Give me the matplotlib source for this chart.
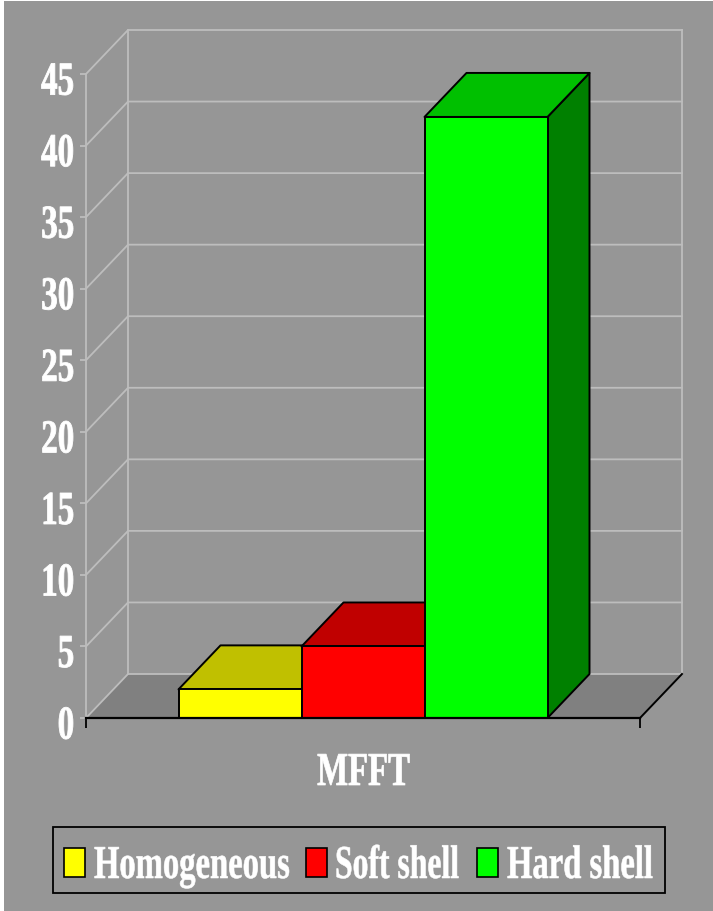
import matplotlib
matplotlib.use('Agg')
import matplotlib.pyplot as plt
from matplotlib.patches import Rectangle
from matplotlib.patheffects import AbstractPathEffect
from matplotlib.transforms import Affine2D

# data
categories = ['Homogeneous', 'Soft shell', 'Hard shell']
values = [2.0, 5.0, 42.0]
y_ticks = [0, 5, 10, 15, 20, 25, 30, 35, 40, 45]
group_label = 'MFFT'

front_colors = ['#ffff00', '#ff0000', '#00ff00']
top_colors = ['#c0c000', '#c00000', '#00c000']
side_colors = ['#808000', '#800000', '#008000']

BG = '#969696'
GRID = '#bdbdbd'
FLOOR = '#808080'
W, H = 713, 911


class Tall(AbstractPathEffect):
    # the reference text is a tall narrow serif, stretch glyphs upwards
    def __init__(self, sy, anchor='baseline', shift=0, bold=0.0):
        super().__init__()
        self.sy = sy
        self.anchor = anchor
        self.shift = shift
        self.bold = bold

    def draw_path(self, renderer, gc, tpath, affine, rgbFace=None):
        if self.anchor == 'center':
            ext = tpath.get_extents(affine)
            y0 = (ext.y0 + ext.y1) / 2
        else:
            y0 = affine.transform((0, 0))[1]
        tall = affine + Affine2D().translate(0, -y0).scale(1, self.sy).translate(0, y0 + self.shift)
        gc0 = renderer.new_gc()
        gc0.copy_properties(gc)
        gc0.set_linewidth(self.bold)
        gc0.set_foreground(rgbFace)
        renderer.draw_path(gc0, tpath, tall, rgbFace)
        gc0.restore()


plt.rcParams['font.family'] = ['Liberation Serif']
plt.rcParams['font.weight'] = 'bold'

fig = plt.figure(figsize=(W / 100, H / 100), dpi=100, facecolor='white')
fig.add_artist(Rectangle((4 / W, 0), 1 - 4 / W, 1 - 1 / H, transform=fig.transFigure,
                         facecolor=BG, edgecolor='none', zorder=-5))


def fig_box(x0, y0, x1, y1):
    return [x0 / W, 1 - y1 / H, (x1 - x0) / W, (y1 - y0) / H]


ax = fig.add_axes(fig_box(86, 74, 640, 718))
ax.patch.set_visible(False)
ax.set_xlim(0, 1)
ax.set_ylim(0, 45)

# oblique depth of the fake 3d box, in data units
dx = 42 / 554
dy = 44 / (644 / 45)

# floor and walls
ax.fill([0, 1, 1 + dx, dx], [0, 0, dy, dy], color=FLOOR, lw=0, clip_on=False, zorder=1)
for t in y_ticks:
    ax.plot([0, dx, 1 + dx], [t, t + dy, t + dy], color=GRID, lw=1.3, clip_on=False, zorder=2)
ax.plot([dx, dx], [dy, 45 + dy], color=GRID, lw=1.3, clip_on=False, zorder=2)
ax.plot([1 + dx, 1 + dx], [dy, 45 + dy], color=GRID, lw=1.3, clip_on=False, zorder=2)

# bars, back wall to front
bar_w = 123 / 554
bar_start = 92.5 / 554
for i, v in enumerate(values):
    x0 = bar_start + i * bar_w
    x1 = x0 + bar_w
    z = 3 + i
    style = dict(edgecolor='black', lw=1.4, joinstyle='round', clip_on=False, zorder=z)
    ax.fill([x1, x1 + dx, x1 + dx, x1], [0, dy, v + dy, v], facecolor=side_colors[i], **style)
    ax.fill([x0, x1, x1 + dx, x0 + dx], [v, v, v + dy, v + dy], facecolor=top_colors[i], **style)
    ax.bar(x0, v, bar_w, align='edge', facecolor=front_colors[i], **style)

# right edge of the floor
ax.plot([1, 1 + dx], [0, dy], color='black', lw=1.4, clip_on=False, zorder=7)

for s in ['top', 'right']:
    ax.spines[s].set_visible(False)
ax.spines['left'].set_color(GRID)
ax.spines['left'].set_linewidth(1.3)
ax.spines['bottom'].set_color('black')
ax.spines['bottom'].set_linewidth(1.6)
ax.spines['bottom'].set_zorder(8)

ax.set_xticks([0, 1])
ax.set_xticklabels(['', ''])
ax.tick_params(axis='x', direction='out', length=7.5, width=1.3, color='black')
ax.set_yticks(y_ticks)
ax.tick_params(axis='y', direction='out', length=4.5, width=1.3, color=GRID, pad=4,
               labelsize=23.8, labelcolor='white')
for lab in ax.get_yticklabels():
    lab.set_path_effects([Tall(1.43, 'center', shift=-4, bold=0.6)])

fig.text(363.5 / W, 1 - 785 / H, group_label, color='white', fontsize=23.6, ha='center', va='baseline',
         path_effects=[Tall(1.44, bold=0.5)])

# legend drawn by hand so the boxes sit where the reference has them
fig.add_artist(Rectangle((52.5 / W, 1 - 893 / H), 612 / W, 66 / H, transform=fig.transFigure,
                         facecolor='none', edgecolor='black', lw=1.3))
handle_x = [64, 306, 477]
text_x = [94, 335, 507]
legend_size = [23.5, 22.8, 23.5]
for i, name in enumerate(categories):
    fig.add_artist(Rectangle((handle_x[i] / W, 1 - 876.5 / H), 21 / W, 29 / H, transform=fig.transFigure,
                             facecolor=front_colors[i], edgecolor='black', lw=1.2))
    fig.text(text_x[i] / W, 1 - 878 / H, name, color='white', fontsize=legend_size[i], ha='left', va='baseline',
             path_effects=[Tall(34 / legend_size[i], bold=0.4)])

fig.savefig('out.png', dpi=100, facecolor=fig.get_facecolor())
